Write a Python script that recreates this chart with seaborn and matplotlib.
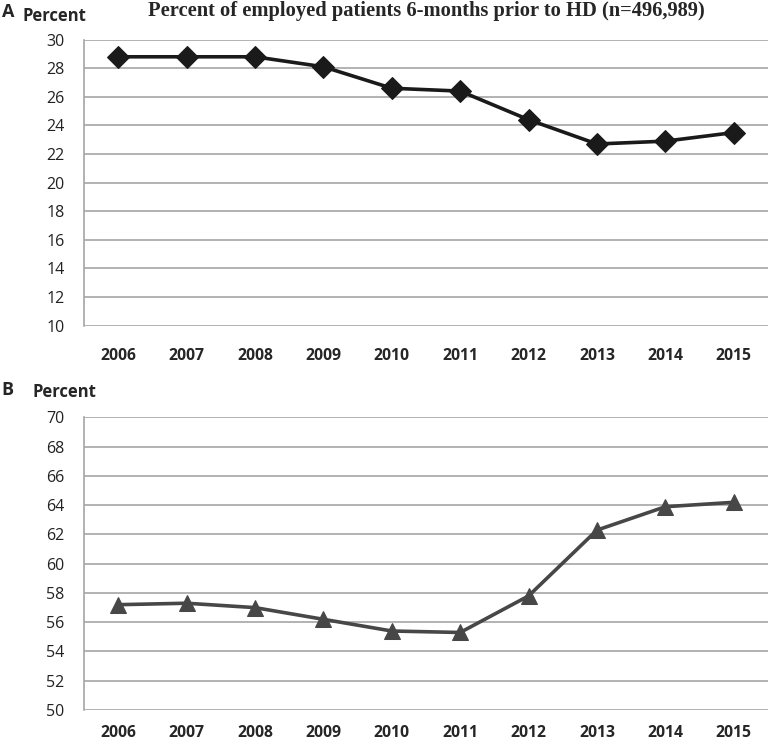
import numpy as np
import pandas as pd
import matplotlib.pyplot as plt
import seaborn as sns

years = ["2006", "2007", "2008", "2009", "2010", "2011", "2012", "2013", "2014", "2015"]
employed_pct = [28.8, 28.8, 28.8, 28.1, 26.6, 26.4, 24.4, 22.7, 22.9, 23.5]
panel_b_pct = [57.2, 57.3, 57.0, 56.2, 55.4, 55.3, 57.8, 62.3, 63.9, 64.2]

a_ticks = list(range(10, 31, 2))
b_ticks = list(range(50, 71, 2))

sns.set_style("white")
plt.rcParams["font.family"] = ["Open Sans", "DejaVu Sans"]

df_a = pd.DataFrame({"Year": years, "Percent": employed_pct})
df_b = pd.DataFrame({"Year": years, "Percent": panel_b_pct})

fig = plt.figure(figsize=(7.72, 7.45), dpi=100)
ax_a = fig.add_axes([0.1088, 0.563, 0.886, 0.3838])
ax_b = fig.add_axes([0.1088, 0.047, 0.886, 0.3926])


def style_axis(ax, ticks, xpad):
    ax.set_ylim(ticks[0], ticks[-1])
    ax.set_yticks(ticks)
    ax.set_xlim(-0.5, len(years) - 0.5)
    ax.grid(axis="y", color="#a6a6a6", linewidth=1.2)
    ax.set_axisbelow(True)
    for s in ["top", "right", "bottom"]:
        ax.spines[s].set_visible(False)
    ax.spines["left"].set_color("#a6a6a6")
    ax.spines["left"].set_linewidth(1.2)
    ax.tick_params(axis="y", length=0, pad=14, labelsize=11.5, labelcolor="#222222")
    ax.tick_params(axis="x", length=0, pad=xpad, labelsize=11.3)
    for lab in ax.get_xticklabels():
        lab.set_fontweight("bold")
    ax.set_xlabel("")
    ax.set_ylabel("")


sns.lineplot(data=df_a, x="Year", y="Percent", ax=ax_a, color="#1a1a1a",
             linewidth=2.6, marker="D", markersize=11, markeredgecolor="#1a1a1a",
             sort=False)
style_axis(ax_a, a_ticks, 16)

sns.lineplot(data=df_b, x="Year", y="Percent", ax=ax_b, color="#474747",
             linewidth=2.6, marker="^", markersize=11, markeredgecolor="#474747",
             sort=False)
style_axis(ax_b, b_ticks, 11)

fig.text(0.002, 0.984, "A", fontsize=13, fontweight="bold", va="center")
fig.text(0.029, 0.979, "Percent", fontsize=12, fontweight="bold", va="center")
fig.text(0.5525, 0.985, "Percent of employed patients 6-months prior to HD (n=496,989)",
         fontsize=14.8, fontweight="bold", ha="center", va="center",
         family=["Liberation Serif", "DejaVu Serif"])
fig.text(0.002, 0.4765, "B", fontsize=13, fontweight="bold", va="center")
fig.text(0.0415, 0.4735, "Percent", fontsize=12, fontweight="bold", va="center")

fig.savefig("out.png", dpi=100)
